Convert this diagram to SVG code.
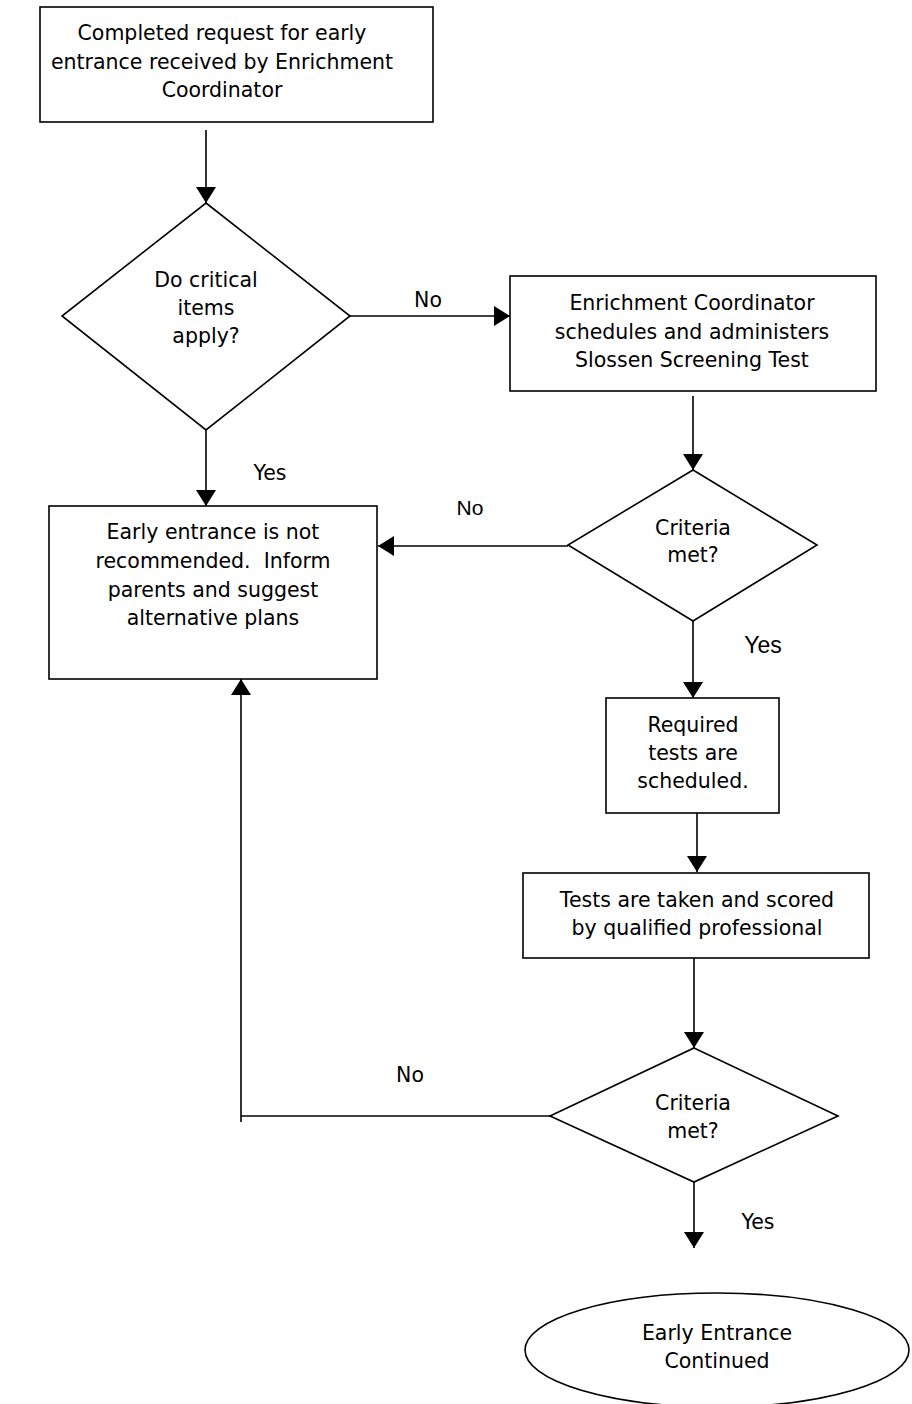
<svg xmlns="http://www.w3.org/2000/svg" width="912" height="1404" viewBox="0 0 912 1404">
<style>
.shape{fill:#fff;stroke:#000;stroke-width:1.6}
.t{font-family:"DejaVu Sans",Verdana,sans-serif;font-size:20.5px;fill:#000;text-anchor:middle}
.a{font-family:"Liberation Sans",Arial,sans-serif;font-size:21px;fill:#000;text-anchor:middle}
.c{fill:none;stroke:#000;stroke-width:1.6}
</style>
<defs>
<marker id="ah" markerUnits="userSpaceOnUse" markerWidth="20" markerHeight="20" refX="16" refY="10" orient="auto">
<path d="M0,0 L16,10 L0,20 Z" fill="#000"/>
</marker>
</defs>
<rect width="912" height="1404" fill="#fff"/>
<g id="connectors">
<path class="c" d="M206,130 V203" marker-end="url(#ah)"/>
<path class="c" d="M350,316 H510" marker-end="url(#ah)"/>
<path class="c" d="M206,430 V506" marker-end="url(#ah)"/>
<path class="c" d="M693,396 V470" marker-end="url(#ah)"/>
<path class="c" d="M568,546 H378" marker-end="url(#ah)"/>
<path class="c" d="M693,621 V698" marker-end="url(#ah)"/>
<path class="c" d="M697,813 V872" marker-end="url(#ah)"/>
<path class="c" d="M694,958 V1048" marker-end="url(#ah)"/>
<path class="c" d="M550,1116 H241"/>
<path class="c" d="M241,1122 V679" marker-end="url(#ah)"/>
<path class="c" d="M694,1182 V1248" marker-end="url(#ah)"/>
<text class="t" x="428" y="307">No</text>
<text class="t" x="270" y="480">Yes</text>
<text class="a" x="470" y="515">No</text>
<text class="a" x="763" y="653" style="font-size:23px">Yes</text>
<text class="t" x="410" y="1082">No</text>
<text class="t" x="758" y="1229">Yes</text>
</g>
<g id="start">
<rect class="shape" x="40" y="7" width="393" height="115"/>
<text class="t" x="222" y="40">Completed request for early</text>
<text class="t" x="222" y="69">entrance received by Enrichment</text>
<text class="t" x="222" y="97">Coordinator</text>
</g>
<g id="critical">
<polygon class="shape" points="206,203 350,316 206,430 62,316"/>
<text class="t" x="206" y="287">Do critical</text>
<text class="t" x="206" y="315">items</text>
<text class="t" x="206" y="343">apply?</text>
</g>
<g id="slossen">
<rect class="shape" x="510" y="276" width="366" height="115"/>
<text class="t" x="692" y="310">Enrichment Coordinator</text>
<text class="t" x="692" y="339">schedules and administers</text>
<text class="t" x="692" y="367">Slossen Screening Test</text>
</g>
<g id="criteria1">
<polygon class="shape" points="693,470 817,545 693,621 568,545"/>
<text class="t" x="693" y="535">Criteria</text>
<text class="t" x="693" y="562">met?</text>
</g>
<g id="notrecommended">
<rect class="shape" x="49" y="506" width="328" height="173"/>
<text class="t" x="213" y="539">Early entrance is not</text>
<text class="t" x="213" y="568" style="white-space:pre">recommended.  Inform</text>
<text class="t" x="213" y="597">parents and suggest</text>
<text class="t" x="213" y="625">alternative plans</text>
</g>
<g id="required">
<rect class="shape" x="606" y="698" width="173" height="115"/>
<text class="t" x="693" y="732">Required</text>
<text class="t" x="693" y="760">tests are</text>
<text class="t" x="693" y="788">scheduled.</text>
</g>
<g id="tests">
<rect class="shape" x="523" y="873" width="346" height="85"/>
<text class="t" x="697" y="907">Tests are taken and scored</text>
<text class="t" x="697" y="935">by qualified professional</text>
</g>
<g id="criteria2">
<polygon class="shape" points="694,1048 838,1116 694,1182 550,1116"/>
<text class="t" x="693" y="1110">Criteria</text>
<text class="t" x="693" y="1138">met?</text>
</g>
<g id="continued">
<ellipse class="shape" cx="717" cy="1350" rx="192" ry="57"/>
<text class="t" x="717" y="1340">Early Entrance</text>
<text class="t" x="717" y="1368">Continued</text>
</g>
</svg>
